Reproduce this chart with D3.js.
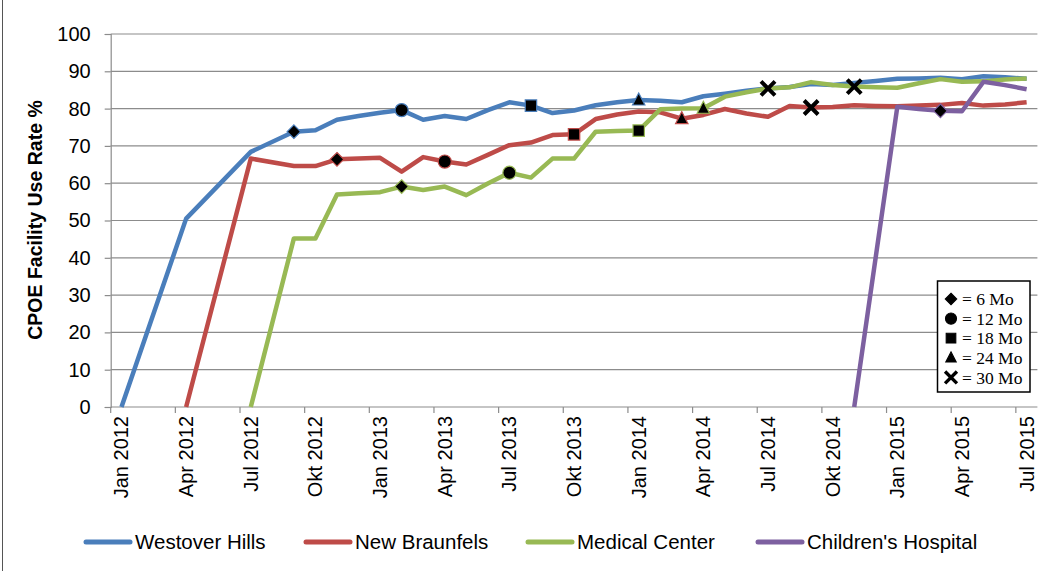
<!DOCTYPE html>
<html>
<head>
<meta charset="utf-8">
<script src="https://cdn.jsdelivr.net/npm/d3@7"></script>
<style>
    body { margin: 0; background: #fff; }
    svg text { font-family: "Liberation Sans", Arial, sans-serif; fill: #000; }
</style>
</head>
<body>
<svg id="chart" width="1043" height="571"></svg>
<script>
// months on the category axis (Jan 2012 .. Jul 2015)
const months = [
    "Jan 2012","Feb 2012","Mär 2012","Apr 2012","Mai 2012","Jun 2012","Jul 2012","Aug 2012","Sep 2012","Okt 2012","Nov 2012","Dez 2012",
    "Jan 2013","Feb 2013","Mär 2013","Apr 2013","Mai 2013","Jun 2013","Jul 2013","Aug 2013","Sep 2013","Okt 2013","Nov 2013","Dez 2013",
    "Jan 2014","Feb 2014","Mär 2014","Apr 2014","Mai 2014","Jun 2014","Jul 2014","Aug 2014","Sep 2014","Okt 2014","Nov 2014","Dez 2014",
    "Jan 2015","Feb 2015","Mär 2015","Apr 2015","Mai 2015","Jun 2015","Jul 2015"
]
const tickLabels = ["Jan 2012","Apr 2012","Jul 2012","Okt 2012","Jan 2013","Apr 2013","Jul 2013","Okt 2013",
    "Jan 2014","Apr 2014","Jul 2014","Okt 2014","Jan 2015","Apr 2015","Jul 2015"]
const yTicks = [0, 10, 20, 30, 40, 50, 60, 70, 80, 90, 100]

const seriesNames = ["Westover Hills", "New Braunfels", "Medical Center", "Children's Hospital"]
const seriesColors = ["#4a7ebb", "#be4b48", "#98b954", "#7d60a0"]

// null = no point for that month (line connects over it)
const westoverHills = [0, null, null, 50.5, null, null, 68.4, null, 73.8, 74.2, 77.0, 78.0,
    78.9, 79.6, 77.0, 78.0, 77.2, 79.6, 81.7, 80.8, 78.8, 79.5, 80.9, 81.7,
    82.3, 82.1, 81.7, 83.3, 84.0, 84.8, 85.4, 85.8, 86.6, 86.3, 86.9, 87.4,
    88.0, 88.1, 88.3, 87.9, 88.7, 88.4, 88.0]
const newBraunfels = [null, null, null, 0, null, null, 66.6, null, 64.6, 64.6, 66.4, 66.6,
    66.8, 63.1, 67.0, 65.8, 65.0, 67.6, 70.2, 70.9, 72.9, 73.1, 77.2, 78.4,
    79.2, 79.0, 77.3, 78.3, 79.9, 78.7, 77.8, 80.7, 80.3, 80.4, 80.9, 80.7,
    80.6, 80.8, 81.0, 81.5, 80.8, 81.1, 81.7]
const medicalCenter = [null, null, null, null, null, null, 0, null, 45.2, 45.2, 57.0, 57.3,
    57.6, 59.1, 58.2, 59.1, 56.8, 59.9, 62.8, 61.5, 66.6, 66.6, 73.8, 74.0,
    74.1, 79.8, 80.0, 80.1, 83.2, 84.4, 85.4, 85.7, 87.1, 86.3, 85.9, 85.7,
    85.6, 86.8, 87.9, 87.2, 87.3, 87.8, 88.1]
const childrensHospital = [null, null, null, null, null, null, null, null, null, null, null, null,
    null, null, null, null, null, null, null, null, null, null, null, null,
    null, null, null, null, null, null, null, null, null, null, 0, null,
    80.5, 79.9, 79.4, 79.3, 87.2, 86.3, 85.2]
const seriesValues = [westoverHills, newBraunfels, medicalCenter, childrensHospital]

// milestone markers: 6, 12, 18, 24, 30 months
const markerTypes = ["diamond", "circle", "square", "triangle", "cross"]
const markerLabels = ["= 6 Mo", "= 12 Mo", "= 18 Mo", "= 24 Mo", "= 30 Mo"]
const westoverMarkers = ["Sep 2012", "Feb 2013", "Aug 2013", "Jan 2014", "Jul 2014"]
const braunfelsMarkers = ["Nov 2012", "Apr 2013", "Okt 2013", "Mär 2014", "Sep 2014"]
const medicalMarkers = ["Feb 2013", "Jul 2013", "Jan 2014", "Apr 2014", "Nov 2014"]
const childrensMarkers = ["Mär 2015"]
const seriesMarkers = [westoverMarkers, braunfelsMarkers, medicalMarkers, childrensMarkers]

const svg = d3.select("#chart")
const plot = {left: 110.7, right: 1037.4, top: 34, bottom: 407}

const x = d3.scalePoint()
    .domain(months)
    .range([plot.left, plot.right])
    .padding(0.5)
const step = x.step()

const y = d3.scaleLinear()
    .domain([0, 100])
    .range([plot.bottom, plot.top])

// outer frame (left edge visible)
svg.append("line")
    .attr("x1", 2.5).attr("x2", 2.5)
    .attr("y1", 0).attr("y2", 571)
    .attr("stroke", "#555").attr("stroke-width", 1)

// horizontal gridlines
svg.append("g")
    .selectAll("line")
    .data(yTicks.filter(d => d > 0))
    .join("line")
    .attr("x1", plot.left).attr("x2", plot.right)
    .attr("y1", d => y(d)).attr("y2", d => y(d))
    .attr("stroke", "#8c8c8c").attr("stroke-width", 1.2)

// y axis
const yAxis = svg.append("g")
    .attr("transform", "translate(" + plot.left + ",0)")
    .call(d3.axisLeft(y).tickValues(yTicks).tickSize(6).tickPadding(14))
yAxis.select(".domain").attr("stroke", "#8c8c8c").attr("stroke-width", 1.2)
yAxis.selectAll(".tick line").attr("stroke", "#8c8c8c").attr("stroke-width", 1.2)
yAxis.selectAll(".tick text")
    .style("font-size", "20px")
    .attr("font-family", null)

// x axis, tick marks sit between categories every 3 months
const xg = svg.append("g")
xg.append("line")
    .attr("x1", plot.left).attr("x2", plot.right)
    .attr("y1", plot.bottom).attr("y2", plot.bottom)
    .attr("stroke", "#8c8c8c").attr("stroke-width", 1.2)
xg.selectAll(".xtick")
    .data(tickLabels)
    .join("line")
    .attr("class", "xtick")
    .attr("x1", d => x(d) - step / 2).attr("x2", d => x(d) - step / 2)
    .attr("y1", plot.bottom).attr("y2", plot.bottom + 6)
    .attr("stroke", "#8c8c8c").attr("stroke-width", 1.2)
xg.selectAll(".xlabel")
    .data(tickLabels)
    .join("text")
    .attr("class", "xlabel")
    .attr("transform", d => "translate(" + x(d) + "," + (plot.bottom + 9) + ")rotate(-90)")
    .attr("text-anchor", "end")
    .attr("dy", "0.35em")
    .style("font-size", "20px")
    .text(d => d)

// y axis title
svg.append("text")
    .attr("transform", "translate(35,220)rotate(-90)")
    .attr("text-anchor", "middle")
    .attr("dy", "0.35em")
    .style("font-size", "19.5px")
    .style("font-weight", "bold")
    .text("CPOE Facility Use Rate %")

// lines
const line = d3.line()
    .x(d => x(d.month))
    .y(d => y(d.value))

seriesNames.forEach((name, i) => {
    let pts = months.map((m, j) => ({month: m, value: seriesValues[i][j]}))
        .filter(d => d.value !== null)
    svg.append("path")
        .datum(pts)
        .attr("fill", "none")
        .attr("stroke", seriesColors[i])
        .attr("stroke-width", 4.5)
        .attr("stroke-linejoin", "round")
        .attr("d", line)
})

function markerPath(type){
    if (type === "diamond"){
        return "M0,-6.8L6.8,0L0,6.8L-6.8,0Z"
    }
    else if (type === "circle"){
        return d3.symbol().type(d3.symbolCircle).size(135)()
    }
    else if (type === "square"){
        return "M-5.7,-5.7H5.7V5.7H-5.7Z"
    }
    else if (type === "triangle"){
        return "M0,-7L6.2,5L-6.2,5Z"
    }
    else {
        return "M-7,-7L7,7M-7,7L7,-7"
    }
}

function drawMarker(g, type, color){
    if (type === "cross"){
        g.append("path")
            .attr("d", markerPath(type))
            .attr("fill", "none")
            .attr("stroke", "#000")
            .attr("stroke-width", 4)
    }
    else {
        g.append("path")
            .attr("d", markerPath(type))
            .attr("fill", "#000")
            .attr("stroke", color)
            .attr("stroke-width", 1.2)
    }
}

seriesNames.forEach((name, i) => {
    seriesMarkers[i].forEach((m, k) => {
        let v = seriesValues[i][months.indexOf(m)]
        let g = svg.append("g")
            .attr("transform", "translate(" + x(m) + "," + y(v) + ")")
        drawMarker(g, markerTypes[k], seriesColors[i])
    })
})

// marker legend box
const mlg = svg.append("g")
mlg.append("rect")
    .attr("x", 937.5).attr("y", 281)
    .attr("width", 92.5).attr("height", 111)
    .attr("fill", "#fff")
    .attr("stroke", "#000").attr("stroke-width", 1.5)
markerTypes.forEach((t, k) => {
    let cy = 299 + k * 19.6
    let g = mlg.append("g").attr("transform", "translate(951," + cy + ")scale(0.85)")
    drawMarker(g, t, "#000")
    mlg.append("text")
        .attr("x", 962).attr("y", cy)
        .attr("dy", "0.35em")
        .style("font-family", "'Liberation Serif', 'Times New Roman', serif")
        .style("font-size", "17.5px")
        .text(markerLabels[k])
})

// series legend at bottom
const legendLineX = [86, 306, 528, 758]
seriesNames.forEach((name, i) => {
    let lx = legendLineX[i]
    svg.append("line")
        .attr("x1", lx).attr("x2", lx + 44)
        .attr("y1", 542).attr("y2", 542)
        .attr("stroke", seriesColors[i])
        .attr("stroke-width", 5)
        .attr("stroke-linecap", "round")
    svg.append("text")
        .attr("x", lx + 49).attr("y", 542)
        .attr("dy", "0.35em")
        .style("font-size", "20.5px")
        .text(name)
})
</script>
</body>
</html>
